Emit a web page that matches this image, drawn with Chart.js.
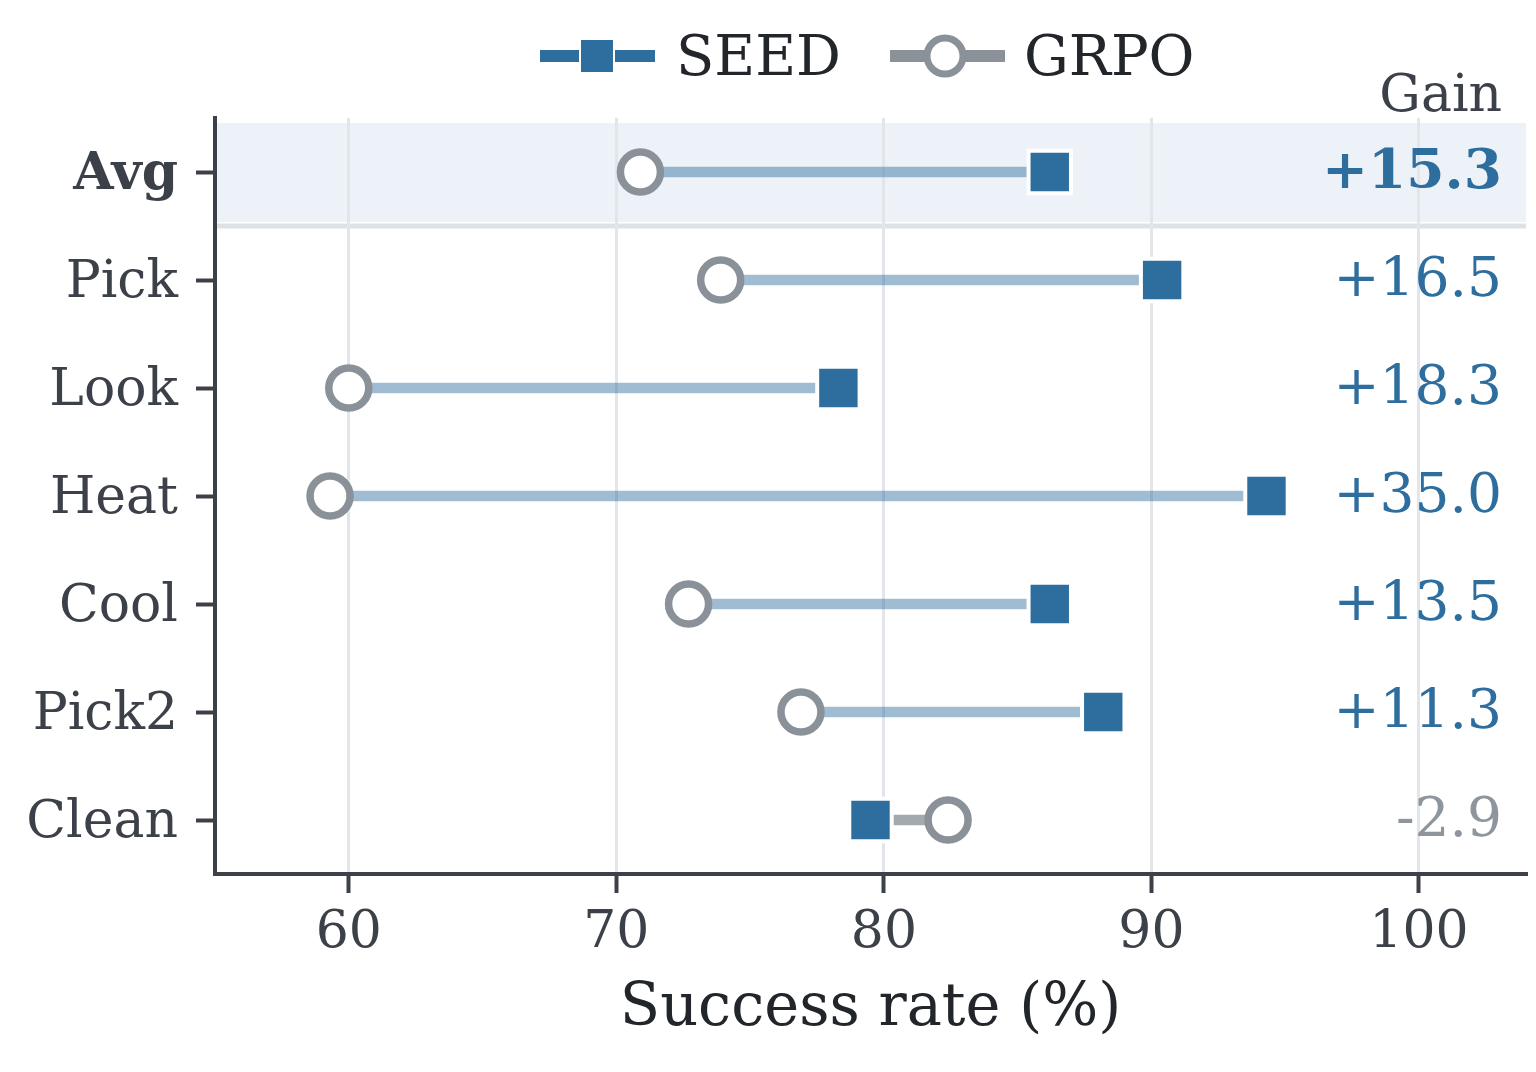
<!DOCTYPE html>
<html>
<head>
<meta charset="utf-8">
<script src="https://cdn.jsdelivr.net/npm/chart.js@4.4.1/dist/chart.umd.min.js"></script>
<style>
  html, body { margin: 0; padding: 0; background: #ffffff; }
  #wrap { width: 1536px; height: 1072px; }
</style>
</head>
<body>
<div id="wrap"><canvas id="c" width="1536" height="1072"></canvas></div>
<script>
const categories = ['Avg', 'Pick', 'Look', 'Heat', 'Cool', 'Pick2', 'Clean'];
const seedRates = [86.2, 90.4, 78.3, 94.3, 86.2, 88.2, 79.5];
const grpoRates = [70.9, 73.9, 60.0, 59.3, 72.7, 76.9, 82.4];
const gainLabels = ['+15.3', '+16.5', '+18.3', '+35.0', '+13.5', '+11.3', '-2.9'];
const xTickValues = [60, 70, 80, 90, 100];
const seriesNames = ['SEED', 'GRPO'];
const xTitle = 'Success rate (%)';
const gainHeader = 'Gain';

const FONT = '"DejaVu Serif", "Liberation Serif", serif';
const SEED_COLOR = '#2E6E9E';
const GRPO_COLOR = '#8A9199';
const POS_LINK = 'rgba(46,110,158,0.46)';
const NEG_LINK = 'rgba(138,145,153,0.78)';
const TEXT = '#3C4149';
const AXIS = '#3C4149';

const gains = seedRates.map((s, i) => s - grpoRates[i]);

const overlay = {
  id: 'overlay',
  beforeDraw(chart) {
    const { ctx, chartArea } = chart;
    const y = chart.scales.y;
    const yc = y.getPixelForValue(0);
    const half = (y.getPixelForValue(1) - yc) / 2;
    ctx.save();
    ctx.fillStyle = '#ECF2F7';
    ctx.fillRect(chartArea.left + 2, yc - half + 5, chartArea.right - chartArea.left - 2, 2 * half - 9);
    ctx.strokeStyle = '#DDE2E7';
    ctx.lineWidth = 5;
    ctx.beginPath();
    ctx.moveTo(chartArea.left + 2, yc + half);
    ctx.lineTo(chartArea.right, yc + half);
    ctx.stroke();
    ctx.restore();
  },
  afterDatasetsDraw(chart) {
    const { ctx, chartArea } = chart;
    const y = chart.scales.y;
    const xr = chartArea.right - 24;
    ctx.save();
    ctx.textAlign = 'right';
    ctx.textBaseline = 'alphabetic';
    ctx.fillStyle = TEXT;
    ctx.font = '52px ' + FONT;
    ctx.fillText(gainHeader, xr, 111);
    ctx.textBaseline = 'middle';
    categories.forEach((c, i) => {
      const py = y.getPixelForValue(i);
      ctx.font = (i === 0 ? 'bold ' : '') + '55px ' + FONT;
      ctx.fillStyle = gains[i] >= 0 ? SEED_COLOR : '#8E959C';
      ctx.fillText(gainLabels[i], xr, py + 2);
    });
    ctx.restore();
  },
  afterDraw(chart) {
    const { ctx } = chart;
    const cy = 56;
    ctx.save();
    // SEED legend
    ctx.strokeStyle = SEED_COLOR;
    ctx.lineWidth = 12;
    ctx.beginPath();
    ctx.moveTo(540, cy); ctx.lineTo(655, cy);
    ctx.stroke();
    ctx.fillStyle = SEED_COLOR;
    ctx.strokeStyle = '#ffffff';
    ctx.lineWidth = 2;
    ctx.fillRect(580, cy - 17, 34, 34);
    ctx.strokeRect(580, cy - 17, 34, 34);
    // GRPO legend
    ctx.strokeStyle = GRPO_COLOR;
    ctx.lineWidth = 12;
    ctx.beginPath();
    ctx.moveTo(890, cy); ctx.lineTo(1005, cy);
    ctx.stroke();
    ctx.beginPath();
    ctx.arc(945, cy, 18, 0, Math.PI * 2);
    ctx.fillStyle = '#ffffff';
    ctx.fill();
    ctx.lineWidth = 7;
    ctx.strokeStyle = GRPO_COLOR;
    ctx.stroke();
    ctx.fillStyle = '#22262B';
    ctx.font = '56px ' + FONT;
    ctx.textAlign = 'left';
    ctx.textBaseline = 'middle';
    ctx.fillText(seriesNames[0], 676, cy + 4);
    ctx.fillText(seriesNames[1], 1024, cy + 4);
    ctx.restore();
  }
};

new Chart(document.getElementById('c'), {
  type: 'bar',
  data: {
    labels: categories,
    datasets: [
      {
        type: 'bar',
        label: 'link',
        data: categories.map((c, i) => [grpoRates[i], seedRates[i]]),
        backgroundColor: gains.map(g => g >= 0 ? POS_LINK : NEG_LINK),
        borderWidth: 0,
        borderSkipped: false,
        barThickness: 10,
        order: 3
      },
      {
        type: 'line',
        label: seriesNames[1],
        data: categories.map((c, i) => ({ x: grpoRates[i], y: c })),
        showLine: false,
        pointStyle: 'circle',
        pointRadius: 20,
        pointHoverRadius: 20,
        pointBorderWidth: 7.5,
        pointBackgroundColor: '#ffffff',
        pointBorderColor: GRPO_COLOR,
        order: 2,
        clip: false
      },
      {
        type: 'line',
        label: seriesNames[0],
        data: categories.map((c, i) => ({ x: seedRates[i], y: c })),
        showLine: false,
        pointStyle: 'rect',
        pointRadius: 30,
        pointHoverRadius: 30,
        pointBorderWidth: 4,
        pointBackgroundColor: SEED_COLOR,
        pointBorderColor: '#ffffff',
        order: 1,
        clip: false
      }
    ]
  },
  options: {
    indexAxis: 'y',
    responsive: false,
    animation: false,
    devicePixelRatio: 1,
    layout: { autoPadding: false, padding: { top: 118, right: 10, left: 0, bottom: 0 } },
    plugins: { legend: { display: false }, tooltip: { enabled: false } },
    scales: {
      x: {
        type: 'linear',
        min: 55,
        max: 104,
        afterFit(scale) { scale.height = 198; },
        afterBuildTicks(scale) { scale.ticks = xTickValues.map(v => ({ value: v })); },
        ticks: {
          font: { family: FONT, size: 52 },
          color: TEXT,
          padding: 9,
          maxRotation: 0
        },
        grid: {
          color: '#E2E6EA',
          lineWidth: 3,
          tickColor: AXIS,
          tickLength: 19,
          tickWidth: 4,
          drawOnChartArea: true
        },
        border: { display: true, color: AXIS, width: 4 },
        title: {
          display: true,
          text: xTitle,
          font: { family: FONT, size: 59 },
          color: '#22262B',
          padding: { top: 0, bottom: 27 }
        }
      },
      y: {
        type: 'category',
        labels: categories,
        offset: true,
        afterFit(scale) { scale.width = 215; },
        ticks: {
          font: (ctx) => ({ family: FONT, size: 52, weight: ctx.index === 0 ? 'bold' : 'normal' }),
          color: TEXT,
          padding: 18,
          labelOffset: 3
        },
        grid: {
          offset: false,
          drawOnChartArea: false,
          tickColor: AXIS,
          tickLength: 19,
          tickWidth: 4
        },
        border: { display: true, color: AXIS, width: 4 }
      }
    }
  },
  plugins: [overlay]
});
</script>
</body>
</html>
